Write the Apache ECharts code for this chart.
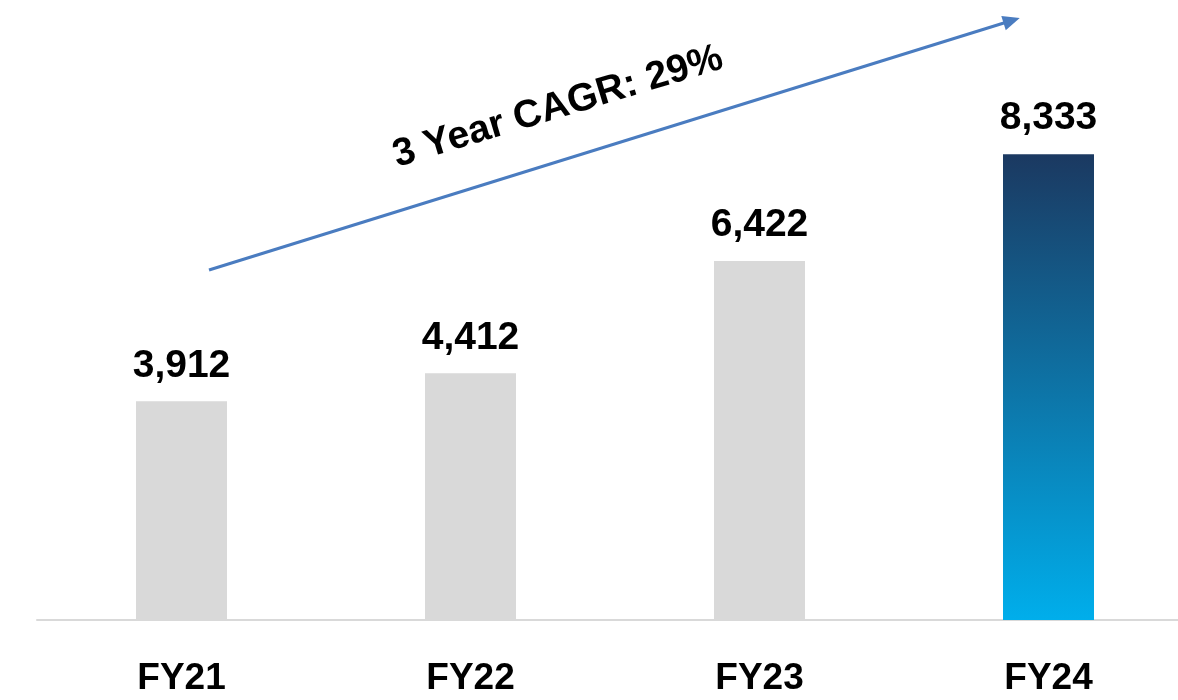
<!DOCTYPE html>
<html>
<head>
<meta charset="utf-8">
<script src="https://cdn.jsdelivr.net/npm/echarts@6/dist/echarts.min.js"></script>
<style>
  html, body { margin: 0; padding: 0; background: #fff; }
  #chart { width: 1178px; height: 700px; }
</style>
</head>
<body>
<div id="chart"></div>
<script>
const categories = ['FY21', 'FY22', 'FY23', 'FY24']
const values = [3912, 4412, 6422, 8333]
const cagrText = '3 Year CAGR: 29%'

const font = '"Liberation Sans", Arial, sans-serif'
const grayBar = '#d9d9d9'
const highlight = new echarts.graphic.LinearGradient(0, 0, 0, 1, [
  { offset: 0, color: '#1b3961' },
  { offset: 1, color: '#00aeeb' }
])

let myChart = echarts.init(document.getElementById('chart'))

let option = {
  animation: false,
  grid: { left: 37, top: 61, width: 1156, height: 559, outerBoundsMode: 'none' },
  xAxis: {
    type: 'category',
    data: categories,
    axisLine: { lineStyle: { color: '#d9d9d9', width: 2 } },
    axisTick: { show: false },
    axisLabel: {
      margin: 40,
      fontSize: 37,
      fontWeight: 'bold',
      fontFamily: font,
      color: '#000'
    }
  },
  yAxis: {
    type: 'value',
    min: 0,
    max: 10000,
    show: false
  },
  series: [{
    type: 'bar',
    barWidth: 91,
    data: values.map((v, i) => ({
      value: v,
      itemStyle: { color: i === values.length - 1 ? highlight : grayBar }
    })),
    label: {
      show: true,
      position: 'top',
      distance: 16,
      fontSize: 39,
      fontWeight: 'bold',
      fontFamily: font,
      color: '#000',
      formatter: p => p.value.toLocaleString('en-US')
    }
  }],
  graphic: [
    {
      type: 'group',
      x: 209,
      y: 270,
      rotation: Math.atan2(252, 811),
      children: [
        {
          type: 'line',
          shape: { x1: 0, y1: 0, x2: 834, y2: 0 },
          style: { stroke: '#4a7cc0', lineWidth: 3 }
        },
        {
          type: 'polygon',
          shape: { points: [[832, -7.5], [849, 0], [832, 7.5]] },
          style: { fill: '#4a7cc0' }
        }
      ]
    },
    {
      type: 'text',
      x: 558,
      y: 107,
      rotation: Math.atan2(97, 320),
      style: {
        text: cagrText,
        fontSize: 39,
        fontWeight: 'bold',
        fontFamily: font,
        fill: '#000',
        align: 'center',
        verticalAlign: 'middle'
      }
    }
  ]
}
myChart.setOption(option)
window.addEventListener('resize', function() {
  myChart.resize()
})
</script>
</body>
</html>
